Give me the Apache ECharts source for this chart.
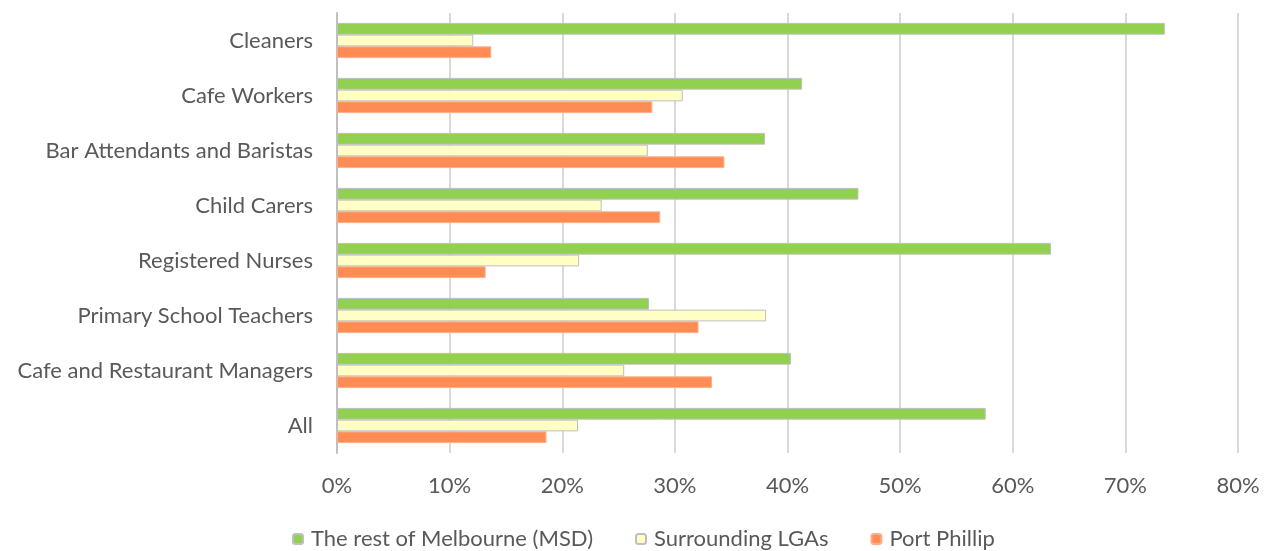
<!DOCTYPE html>
<html>
<head>
<meta charset="utf-8">
<script src="https://cdn.jsdelivr.net/npm/echarts@6/dist/echarts.min.js"></script>
<style>
  html, body { margin: 0; padding: 0; background: #fff; }
  #chart { width: 1270px; height: 551px; }
</style>
</head>
<body>
<div id="chart"></div>
<script>
// Occupations, listed top to bottom
const occupations = [
  'Cleaners',
  'Cafe Workers',
  'Bar Attendants and Baristas',
  'Child Carers',
  'Registered Nurses',
  'Primary School Teachers',
  'Cafe and Restaurant Managers',
  'All'
];

// Share of workers (%) by place of residence
const restOfMelbourne = [73.5, 41.3, 38.0, 46.3, 63.4, 27.7, 40.3, 57.6];
const surroundingLGAs = [12.1, 30.7, 27.6, 23.5, 21.5, 38.1, 25.5, 21.4];
const portPhillip     = [13.7, 28.0, 34.4, 28.7, 13.2, 32.1, 33.3, 18.6];

const seriesNames = ['The rest of Melbourne (MSD)', 'Surrounding LGAs', 'Port Phillip'];

const FONT = 'Lato, "Open Sans", sans-serif';
const TEXT = '#595959';
const SIZE = 22;

const chart = echarts.init(document.getElementById('chart'), null, { renderer: 'canvas' });

function barSeries(name, data, fill, border) {
  return {
    name: name,
    type: 'bar',
    data: data,
    barGap: '0%',
    barCategoryGap: '36%',
    itemStyle: { color: fill, borderColor: border, borderWidth: 1 },
    emphasis: { disabled: true }
  };
}

chart.setOption({
  animation: false,
  backgroundColor: '#ffffff',
  textStyle: { fontFamily: FONT, color: TEXT },
  grid: { left: 337, right: 32, top: 13, bottom: 98 },
  legend: {
    data: seriesNames,
    left: 287,
    top: 523,
    itemWidth: 10,
    itemHeight: 10,
    itemGap: 42,
    textStyle: { fontFamily: FONT, fontSize: SIZE, color: TEXT, padding: [0, 0, 0, 3] }
  },
  xAxis: {
    type: 'value',
    min: 0,
    max: 80,
    interval: 10,
    axisLine: { show: false },
    axisTick: { show: false },
    axisLabel: {
      formatter: '{value}%',
      fontFamily: FONT,
      fontSize: SIZE,
      color: TEXT,
      margin: 22
    },
    splitLine: { lineStyle: { color: '#d9d9d9', width: 2 } }
  },
  yAxis: {
    type: 'category',
    data: occupations,
    inverse: true,
    axisLine: { show: true, lineStyle: { color: '#bfbfbf', width: 2 } },
    axisTick: { show: false },
    axisLabel: {
      fontFamily: FONT,
      fontSize: SIZE,
      color: TEXT,
      margin: 24
    }
  },
  series: [
    barSeries(seriesNames[0], restOfMelbourne, '#92D050', '#BFBFBF'),
    barSeries(seriesNames[1], surroundingLGAs, '#FFFFC5', '#BFBFBF'),
    barSeries(seriesNames[2], portPhillip, '#FF8C55', '#FBAF88')
  ]
});
</script>
</body>
</html>
